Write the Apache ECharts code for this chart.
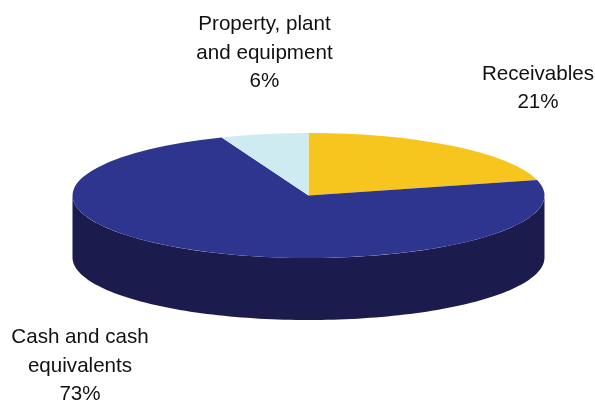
<!DOCTYPE html>
<html>
<head>
<meta charset="utf-8">
<style>html,body{margin:0;padding:0;background:#fff}#chart{width:595px;height:401px}</style>
<script src="https://cdn.jsdelivr.net/npm/echarts@6/dist/echarts.min.js"></script>
</head>
<body>
<div id="chart"></div>
<script>
// Asset mix, clockwise from twelve o'clock
var categories = ['Receivables', 'Cash and cash\nequivalents', 'Property, plant\nand equipment'];
var shares = [21, 73, 6];

// Tilted-disc geometry and styling
var disc = { cx: 308.5, cy: 195.5, rx: 236, ry: 62.5, depth: 62 };
var sliceColors = ['#F6C61F', '#2E358F', '#CDEBF0'];
var wallColor = '#1C1B4E';
var labelAnchors = [[538, 88.5], [80, 366], [264.5, 53]];

var total = shares.reduce(function (a, b) { return a + b; }, 0);

function renderSlice(params, api) {
  var i = params.dataIndex;
  var before = 0;
  for (var k = 0; k < i; k++) before += shares[k];
  var value = api.value(0);
  // Angles measured by the canvas convention, zero at three o'clock
  var start = -Math.PI / 2 + before / total * Math.PI * 2;
  var end = start + value / total * Math.PI * 2;
  var children = [];

  // The front wall is visible only for the lower half of the disc
  var wallStart = Math.max(start, 0);
  var wallEnd = Math.min(end, Math.PI);
  if (wallEnd > wallStart) {
    var pts = [];
    var steps = 120;
    for (var s = 0; s <= steps; s++) {
      var a = wallStart + (wallEnd - wallStart) * s / steps;
      pts.push([disc.cx + disc.rx * Math.cos(a), disc.cy + disc.ry * Math.sin(a)]);
    }
    for (var t = steps; t >= 0; t--) {
      var b = wallStart + (wallEnd - wallStart) * t / steps;
      pts.push([disc.cx + disc.rx * Math.cos(b), disc.cy + disc.depth + disc.ry * Math.sin(b)]);
    }
    children.push({ type: 'polygon', shape: { points: pts }, style: { fill: wallColor } });
  }

  // Top face: a circular sector flattened into an ellipse
  children.push({
    type: 'sector',
    x: disc.cx,
    y: disc.cy,
    scaleY: disc.ry / disc.rx,
    shape: { cx: 0, cy: 0, r0: 0, r: disc.rx, startAngle: start, endAngle: end, clockwise: true },
    style: { fill: sliceColors[i] }
  });

  children.push({
    type: 'text',
    x: labelAnchors[i][0],
    y: labelAnchors[i][1],
    z2: 10,
    style: {
      text: categories[i] + '\n' + value + '%',
      fill: '#111',
      font: '20.6px "Liberation Sans", Arial, sans-serif',
      lineHeight: 28.5,
      align: 'center',
      verticalAlign: 'middle'
    }
  });
  return { type: 'group', children: children };
}

var chart = echarts.init(document.getElementById('chart'), null, { renderer: 'canvas' });
chart.setOption({
  animation: false,
  backgroundColor: '#fff',
  series: [{
    type: 'custom',
    coordinateSystem: 'none',
    renderItem: renderSlice,
    data: shares.map(function (v, i) { return { name: categories[i], value: [v] }; })
  }]
});
</script>
</body>
</html>
